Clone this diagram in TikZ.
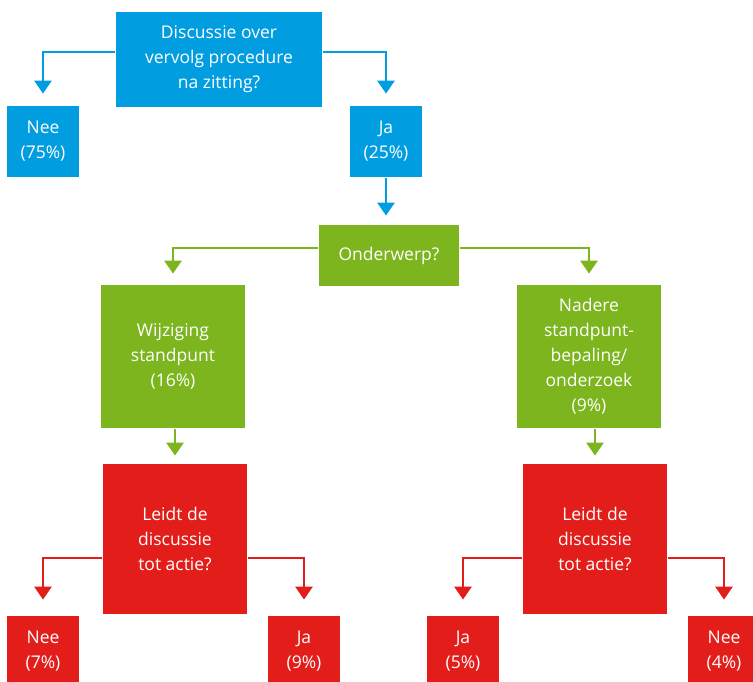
\documentclass[tikz,border=0pt]{standalone}
\usepackage{fontspec}
\setmainfont{Open Sans}
\usetikzlibrary{arrows.meta}
\definecolor{ktblue}{RGB}{0,158,224}
\definecolor{ktgreen}{RGB}{124,181,29}
\definecolor{ktred}{RGB}{227,30,26}
\tikzset{
  box/.style={rectangle, inner sep=0pt, align=center, text=white,
    font=\fontsize{17.5}{25}\selectfont},
  smallbox/.style={box, minimum width=72pt, minimum height=71pt},
  bigbox/.style={box, minimum width=144pt}
}

\begin{document}
\begin{tikzpicture}[x=1pt, y=-1pt, line width=2.8pt,
    >={Triangle[width=17pt,length=13pt]}]
      \path[use as bounding box, clip] (0,0) rectangle (753,681);
      % blue
      \node[box, fill=ktblue, minimum width=206pt, minimum height=95pt] (vraag) at (219,59.5)
        {Discussie over\\vervolg procedure\\na zitting?};
      \node[smallbox, fill=ktblue] (nee1) at (43,141.5) {Nee\\(75\%)};
      \node[smallbox, fill=ktblue] (ja1) at (386,141.5) {Ja\\(25\%)};
      % green
      \node[box, fill=ktgreen, minimum width=140pt, minimum height=61pt] (onderwerp) at (389,255.5) {Onderwerp?};
      \node[bigbox, fill=ktgreen, minimum height=143pt] (wijziging) at (173,356.5) {Wijziging\\standpunt\\(16\%)};
      \node[bigbox, fill=ktgreen, minimum height=143pt] (nadere) at (589,356.5) {Nadere\\standpunt-\\bepaling/\\onderzoek\\(9\%)};
      % red
      \node[bigbox, fill=ktred, minimum height=150pt] (actie1) at (175,539) {Leidt de\\discussie\\tot actie?};
      \node[bigbox, fill=ktred, minimum height=150pt] (actie2) at (595,539) {Leidt de\\discussie\\tot actie?};
      \node[smallbox, fill=ktred] (nee2) at (43,651.5) {Nee\\(7\%)};
      \node[smallbox, fill=ktred] (ja2) at (304,651.5) {Ja\\(9\%)};
      \node[smallbox, fill=ktred] (ja3) at (463,651.5) {Ja\\(5\%)};
      \node[smallbox, fill=ktred] (nee3) at (724,651.5) {Nee\\(4\%)};
      \draw [->, ktblue, shorten >=11pt] (vraag.west |- 0,52) -| (nee1.north); % vraag -> nee
      \draw [->, ktblue, shorten >=11pt] (vraag.east |- 0,52) -| (ja1.north); % vraag -> ja
      \draw [->, ktblue, shorten >=8pt] (ja1.south) -- (ja1.south |- onderwerp.north); % ja -> onderwerp
      \draw [->, ktgreen, shorten >=10pt] (onderwerp.west |- 0,248) -| (wijziging.north); % onderwerp -> wijziging
      \draw [->, ktgreen, shorten >=10pt] (onderwerp.east |- 0,248) -| (nadere.north); % onderwerp -> nadere
      \draw [->, ktgreen, shorten >=7pt] (wijziging.south -| actie1.north) -- (actie1.north); % wijziging -> actie
      \draw [->, ktgreen, shorten >=7pt] (nadere.south -| actie2.north) -- (actie2.north); % nadere -> actie
      \draw [->, ktred, shorten >=15pt] (actie1.west |- 0,558) -| (nee2.north); % actie -> nee
      \draw [->, ktred, shorten >=15pt] (actie1.east |- 0,558) -| (ja2.north); % actie -> ja
      \draw [->, ktred, shorten >=15pt] (actie2.west |- 0,558) -| (ja3.north); % actie -> ja
      \draw [->, ktred, shorten >=15pt] (actie2.east |- 0,558) -| (nee3.north); % actie -> nee
    \end{tikzpicture}
\end{document}
